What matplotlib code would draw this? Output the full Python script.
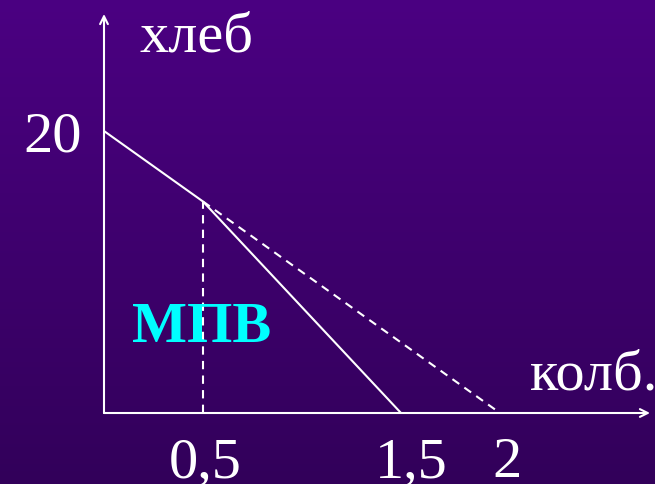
import numpy as np
from matplotlib import pyplot as plt

# production possibilities: хлеб vs колб.
bread_max = 20
kink_x, kink_y = 0.5, 15
new_end = 1.5
old_end = 2
tick_vals = [0.5, 1.5, 2]
tick_labels = ['0,5', '1,5', '2']

new_x = [0, kink_x, new_end]
new_y = [bread_max, kink_y, 0]
old_x = [kink_x, old_end]
old_y = [kink_y, 0]

W, H = 655, 485
fig = plt.figure(figsize=(W/100, H/100), dpi=100)
ax = fig.add_axes([0, 0, 1, 1])

# pixel mapping: x=0 at px 104, 198 px per unit; y=0 at px 414, 14.1 px per unit
x0, sx = 104, 198
y0, sy = 414, 14.1
xlim = (-x0/sx, (W - x0)/sx)
ylim = ((y0 - H)/sy, y0/sy)
ax.set_xlim(*xlim)
ax.set_ylim(*ylim)
ax.axis('off')

# background gradient
top = np.array([75, 0, 130]) / 255
bot = np.array([50, 0, 90]) / 255
t = np.linspace(0, 1, 256)[:, None]
grad = top * (1 - t[..., None]) + bot * t[..., None]
grad = np.repeat(grad, 2, axis=1)
ax.imshow(grad, extent=(xlim[0], xlim[1], ylim[0], ylim[1]), aspect='auto', zorder=0)

arrow = dict(arrowstyle='->', color='white', lw=1.5, mutation_scale=14, shrinkA=0, shrinkB=0)
ax.annotate('', xy=((650 - x0)/sx, 0), xytext=(0, 0), arrowprops=arrow)
ax.annotate('', xy=(0, (y0 - 15)/sy), xytext=(0, 0), arrowprops=arrow)

ax.plot(new_x, new_y, color='white', lw=1.5, solid_capstyle='butt')
ax.plot(old_x, old_y, color='white', lw=1.5, linestyle=(0, (4, 3)))
ax.plot([kink_x, kink_x], [0, kink_y], color='white', lw=1.5, linestyle=(0, (4, 3)))

font = dict(family='Liberation Serif', color='white', fontsize=42)
ax.annotate(str(bread_max), xy=(0, bread_max), xytext=(-22, -5), textcoords='offset pixels',
            ha='right', va='center', **font)
shifts = [2, 10, 7]
for v, lab, s in zip(tick_vals, tick_labels, shifts):
    ax.annotate(lab, xy=(v, 0), xytext=(s, 8), textcoords='offset pixels',
                xycoords=('data', 'figure pixels'), ha='center', va='baseline', **font)

fig.text(140/W, (H - 52)/H, 'хлеб', ha='left', va='baseline', **font)
fig.text(530/W, (H - 390)/H, 'колб.', ha='left', va='baseline', **font)
fig.text(132/W, (H - 342)/H, 'МПВ', ha='left', va='baseline', family='Liberation Serif',
         fontsize=42, fontweight='bold', color='#00ffff')

fig.savefig('out.png', dpi=100)
